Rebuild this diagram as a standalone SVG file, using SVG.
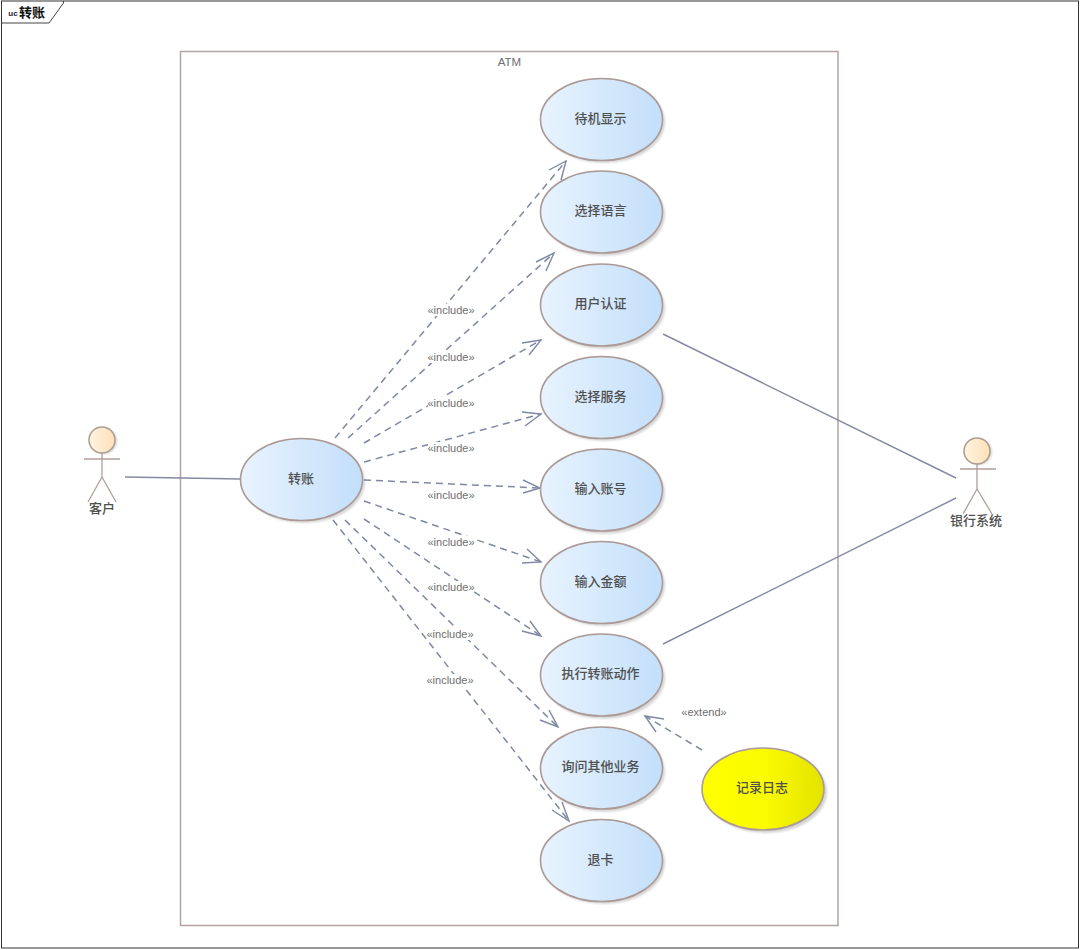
<svg xmlns="http://www.w3.org/2000/svg" width="1080" height="950" viewBox="0 0 1080 950">
<style>
text{font-family:"Noto Sans CJK SC","Liberation Sans",sans-serif;text-anchor:middle;fill:#4f4f4f}
.uc{font-size:13px;font-weight:500}
.lb{font-family:"Liberation Sans","Noto Sans CJK SC",sans-serif;font-size:11px;fill:#6e6e6e}
.bg{fill:#fff}
.el{stroke:#ab9a96;stroke-width:1.6}
.blue{fill:url(#bl)}
.yel{fill:url(#ye)}
.dash{fill:none;stroke:#7f88a2;stroke-width:1.5;stroke-dasharray:7 5}
.head{fill:none;stroke:#7f88a2;stroke-width:1.4}
.solid{fill:none;stroke:#8589a2;stroke-width:1.4}
.stick{fill:none;stroke:#b09f9b;stroke-width:1.3}
.hd{fill:url(#sk);stroke:#ab9c90;stroke-width:1.5}
.sh{fill:#000;opacity:.16;filter:url(#bf)}
</style>
<defs>
<linearGradient id="bl"><stop offset="0" stop-color="#e8f3fe"/><stop offset="1" stop-color="#c3dffa"/></linearGradient>
<linearGradient id="ye"><stop offset="0" stop-color="#ffff00"/><stop offset=".5" stop-color="#fbfb00"/><stop offset="1" stop-color="#e3e300"/></linearGradient>
<linearGradient id="sk"><stop offset="0" stop-color="#fff4e2"/><stop offset="1" stop-color="#fde0b6"/></linearGradient>
<filter id="bf" x="-10%" y="-10%" width="120%" height="120%"><feGaussianBlur stdDeviation="1.2"/></filter>
</defs>
<rect width="1080" height="950" fill="#fff"/>
<g id="frame">
<rect x="1.500" y="1" width="1077" height="947" fill="none" stroke="#333" stroke-width="1"/>
<path d="M1.500 23H49L63.500 3V1" fill="none" stroke="#444" stroke-width="1"/>
<text x="13" y="16" style="font-family:'Liberation Sans',sans-serif;font-size:8px;font-weight:700;fill:#223">uc</text>
<text x="32" y="17" style="font-size:13px;font-weight:700;fill:#111">转账</text>
</g>
<g id="boundary">
<rect x="180.500" y="51.500" width="657.500" height="874" fill="#fff" stroke="#b3a3a3" stroke-width="1.500"/>
<text x="509.500" y="66" class="lb" style="font-size:11.500px">ATM</text>
</g>
<g id="connectors">
<path class="solid" d="M125 477L241 479"/>
<path class="solid" d="M663 334L956 478"/>
<path class="solid" d="M663 644L956 498"/>
<path class="dash" d="M335 438L566 161"/><path class="head" d="M549 170L566 161L561 180"/>
<path class="dash" d="M348 438L554 253"/><path class="head" d="M536 262L554 253L546 271"/>
<path class="dash" d="M364 443L541 340"/><path class="head" d="M522 343L541 340L529 355"/>
<path class="dash" d="M364 462L541 414"/><path class="head" d="M522 412L541 414L525 426"/>
<path class="dash" d="M364 480L540 488"/><path class="head" d="M523 480L540 488L523 493"/>
<path class="dash" d="M364 501L541 562"/><path class="head" d="M527 549L541 562L522 563"/>
<path class="dash" d="M364 519L541 636"/><path class="head" d="M530 621L541 636L522 631"/>
<path class="dash" d="M345 520L558 727"/><path class="head" d="M549 710L558 727L540 720"/>
<path class="dash" d="M333 520L569 821"/><path class="head" d="M562 802L569 821L552 810"/>
<path class="dash" d="M702 750L645 716"/><path class="head" d="M664 719L645 716L656 732"/>
<g>
<rect class="bg" x="428" y="304" width="46" height="12"/><text x="451" y="314" class="lb">«include»</text>
<rect class="bg" x="428" y="351" width="46" height="12"/><text x="451" y="361" class="lb">«include»</text>
<rect class="bg" x="428" y="397" width="46" height="12"/><text x="451" y="407" class="lb">«include»</text>
<rect class="bg" x="428" y="442" width="46" height="12"/><text x="451" y="452" class="lb">«include»</text>
<rect class="bg" x="428" y="489" width="46" height="12"/><text x="451" y="499" class="lb">«include»</text>
<rect class="bg" x="428" y="536" width="46" height="12"/><text x="451" y="546" class="lb">«include»</text>
<rect class="bg" x="428" y="581" width="46" height="12"/><text x="451" y="591" class="lb">«include»</text>
<rect class="bg" x="427" y="628" width="46" height="12"/><text x="450" y="638" class="lb">«include»</text>
<rect class="bg" x="427" y="674" width="46" height="12"/><text x="450" y="684" class="lb">«include»</text>
<text x="704" y="716" class="lb">«extend»</text>
</g>
</g>
<g id="actor-customer">
<circle cx="104" cy="441" r="13" class="sh"/>
<circle cx="102" cy="440" r="13" class="hd"/>
<path class="stick" d="M102 453V477M84 459H120M102 477L88 502M102 477L116 502"/>
<text x="102" y="513" class="uc">客户</text>
</g>
<g id="actor-bank">
<circle cx="979" cy="452" r="13" class="sh"/>
<circle cx="977" cy="451" r="13" class="hd"/>
<path class="stick" d="M977 464V489M960 469H996M977 489L963 514M977 489L992 514"/>
<text x="976" y="525" class="uc">银行系统</text>
</g>
<g id="uc-transfer"><ellipse cx="304" cy="482" rx="61" ry="41" class="sh"/><ellipse cx="301.500" cy="479.500" rx="61" ry="41" class="el blue"/><text x="301" y="483" class="uc">转账</text></g>
<g id="uc-1"><ellipse cx="604" cy="122" rx="61" ry="41" class="sh"/><ellipse cx="601.500" cy="119.500" rx="61" ry="41" class="el blue"/><text x="600.500" y="123" class="uc">待机显示</text></g>
<g id="uc-2"><ellipse cx="604" cy="215" rx="61" ry="41" class="sh"/><ellipse cx="601.500" cy="212" rx="61" ry="41" class="el blue"/><text x="600.500" y="215" class="uc">选择语言</text></g>
<g id="uc-3"><ellipse cx="604" cy="308" rx="61" ry="41" class="sh"/><ellipse cx="601.500" cy="305" rx="61" ry="41" class="el blue"/><text x="600.500" y="308" class="uc">用户认证</text></g>
<g id="uc-4"><ellipse cx="604" cy="400" rx="61" ry="41" class="sh"/><ellipse cx="601.500" cy="397.500" rx="61" ry="41" class="el blue"/><text x="600.500" y="401" class="uc">选择服务</text></g>
<g id="uc-5"><ellipse cx="604" cy="493" rx="61" ry="41" class="sh"/><ellipse cx="601.500" cy="490" rx="61" ry="41" class="el blue"/><text x="600.500" y="493" class="uc">输入账号</text></g>
<g id="uc-6"><ellipse cx="604" cy="585" rx="61" ry="41" class="sh"/><ellipse cx="601.500" cy="582.500" rx="61" ry="41" class="el blue"/><text x="600.500" y="586" class="uc">输入金额</text></g>
<g id="uc-7"><ellipse cx="604" cy="678" rx="61" ry="41" class="sh"/><ellipse cx="601.500" cy="675" rx="61" ry="41" class="el blue"/><text x="600.500" y="678" class="uc">执行转账动作</text></g>
<g id="uc-8"><ellipse cx="604" cy="771" rx="61" ry="41" class="sh"/><ellipse cx="601.500" cy="768" rx="61" ry="41" class="el blue"/><text x="600.500" y="771" class="uc">询问其他业务</text></g>
<g id="uc-9"><ellipse cx="604" cy="863" rx="61" ry="41" class="sh"/><ellipse cx="601.500" cy="860.500" rx="61" ry="41" class="el blue"/><text x="600.500" y="864" class="uc">退卡</text></g>
<g id="uc-log"><ellipse cx="766" cy="792" rx="61" ry="41" class="sh"/><ellipse cx="763" cy="789" rx="61" ry="41" class="el yel"/><text x="762" y="792" class="uc">记录日志</text></g>
</svg>
